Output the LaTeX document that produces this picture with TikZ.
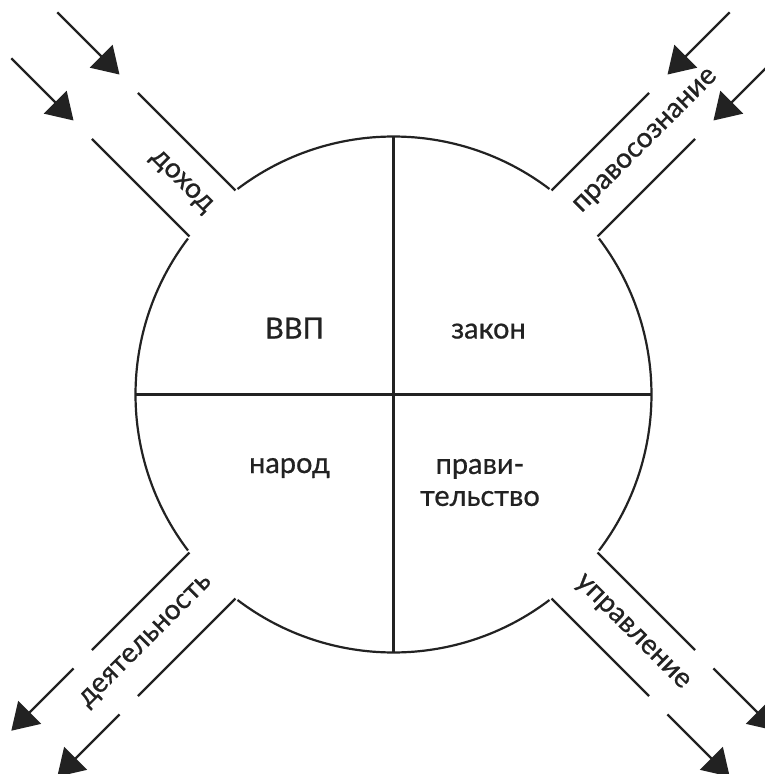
\documentclass[tikz,border=0pt]{standalone}
\usepackage{fontspec}
\setmainfont{Lato}[FakeBold=0.7]
\usetikzlibrary{arrows.meta}
\definecolor{inkgray}{RGB}{34,34,34}
\tikzset{
  wall/.style={inkgray, line width=2.2pt},
  flow/.style={inkgray, line width=2.2pt, -{Triangle[length=26pt,width=32pt]}},
  quarter/.style={inkgray, font=\fontsize{29}{32}\selectfont, align=center},
  tag/.style={inkgray, font=\fontsize{28}{30}\selectfont, inner sep=0pt},
}

\begin{document}
\begin{tikzpicture}[x=1pt, y=1pt]
    \useasboundingbox (-393.5,-379.5) rectangle (371.5,394.5);
    \clip (-393.5,-379.5) rectangle (371.5,394.5);

    % Circle, open where the channels meet it
    \draw[wall] (52.8:258) arc[start angle=52.8, end angle=127.2, radius=258];
    \draw[wall] (142.8:258) arc[start angle=142.8, end angle=217.2, radius=258];
    \draw[wall] (232.8:258) arc[start angle=232.8, end angle=307.2, radius=258];
    \draw[wall] (322.8:258) arc[start angle=322.8, end angle=397.2, radius=258];

    % Quarters
    \coordinate (top) at (90:257);
    \coordinate (bottom) at (270:257);
    \coordinate (left) at (180:258);
    \coordinate (right) at (0:258);
    \draw[inkgray, line width=3pt] (top) -- (bottom);
    \draw[inkgray, line width=3pt] (left) -- (right);
    \node[quarter, anchor=base] (gdp) at (-99,56) {ВВП};
    \node[quarter, anchor=base] (law) at (95,56) {закон};
    \node[quarter, anchor=base] (people) at (-104,-78.5) {народ};
    \node[quarter] (gov) at (86.5,-88) {прави-\\тельство};

    % Income channel (in)
    \begin{scope}[rotate=135]
        \draw[wall] (256,32.5) -- (394,32.5);
        \draw[wall] (256,-32.5) -- (394,-32.5);
        \coordinate (incA) at (508,32.5);
        \coordinate (incB) at (508,-32.5);
        \coordinate (incA') at (420,32.5);
        \coordinate (incB') at (420,-32.5);
        \draw[flow] (incA) -- (incA');
        \draw[flow] (incB) -- (incB');
    \end{scope}
    \node[tag, anchor=east, rotate=-45] (income) at (135:261) {доход};

    % Legal awareness channel (in)
    \begin{scope}[rotate=45]
        \draw[wall] (256,32.5) -- (394,32.5);
        \draw[wall] (256,-32.5) -- (394,-32.5);
        \coordinate (awaA) at (508,32.5);
        \coordinate (awaB) at (508,-32.5);
        \coordinate (awaA') at (420,32.5);
        \coordinate (awaB') at (420,-32.5);
        \draw[flow] (awaA) -- (awaA');
        \draw[flow] (awaB) -- (awaB');
    \end{scope}
    \node[tag, anchor=west, rotate=45] (awareness) at (45:261) {правосознание};

    % Activity channel (out)
    \begin{scope}[rotate=225]
        \draw[wall] (256,32.5) -- (394,32.5);
        \draw[wall] (256,-32.5) -- (394,-32.5);
        \coordinate (actA) at (420,32.5);
        \coordinate (actB) at (420,-32.5);
        \coordinate (actA') at (508,32.5);
        \coordinate (actB') at (508,-32.5);
        \draw[flow] (actA) -- (actA');
        \draw[flow] (actB) -- (actB');
    \end{scope}
    \node[tag, anchor=east, rotate=45] (activity) at (225:261) {деятельность};

    % Management channel (out)
    \begin{scope}[rotate=315]
        \draw[wall] (256,32.5) -- (394,32.5);
        \draw[wall] (256,-32.5) -- (394,-32.5);
        \coordinate (manA) at (420,32.5);
        \coordinate (manB) at (420,-32.5);
        \coordinate (manA') at (508,32.5);
        \coordinate (manB') at (508,-32.5);
        \draw[flow] (manA) -- (manA');
        \draw[flow] (manB) -- (manB');
    \end{scope}
    \node[tag, anchor=west, rotate=-45] (management) at (315:261) {управление};
\end{tikzpicture}
\end{document}
